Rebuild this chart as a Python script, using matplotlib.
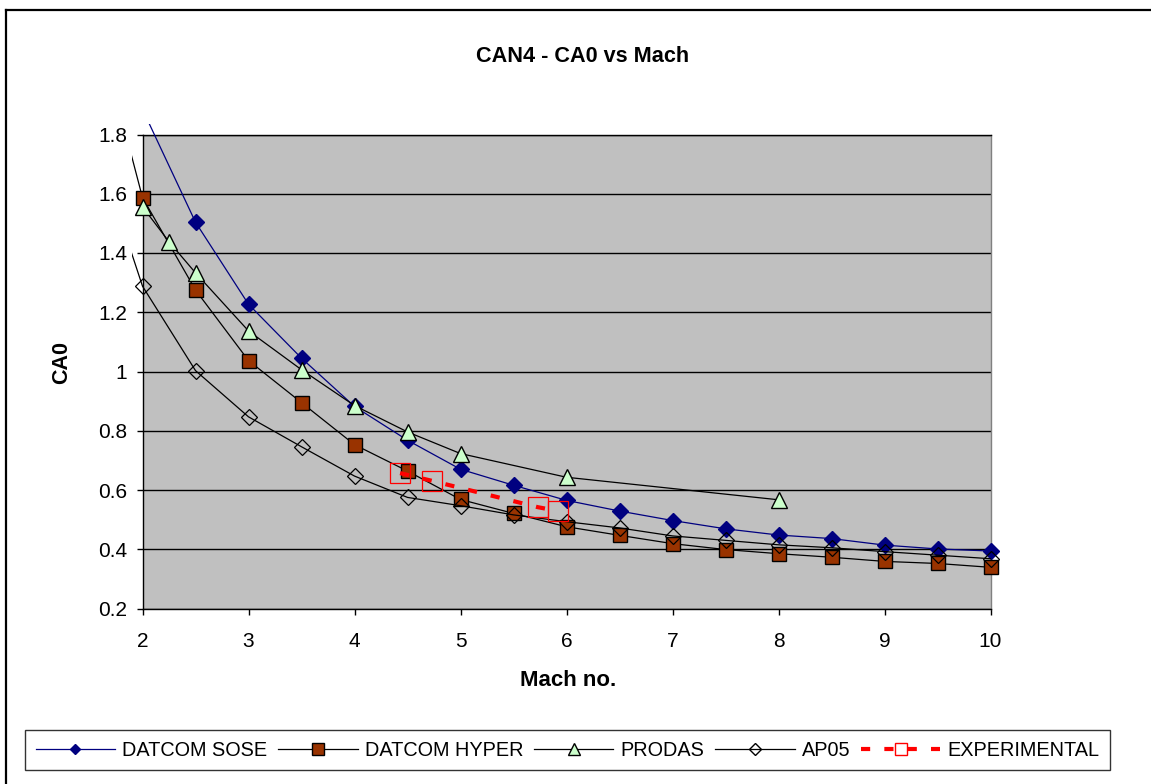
import matplotlib
matplotlib.use('Agg')
import matplotlib.pyplot as plt
from matplotlib.lines import Line2D
from matplotlib.patches import Rectangle
import matplotlib.ticker

# ---- data ----
mach_sose = [2, 2.5, 3, 3.5, 4, 4.5, 5, 5.5, 6, 6.5, 7, 7.5, 8, 8.5, 9, 9.5, 10]
ca0_sose = [1.885, 1.504, 1.227, 1.045, 0.882, 0.768, 0.670, 0.616, 0.565, 0.529,
            0.497, 0.469, 0.448, 0.436, 0.414, 0.401, 0.394]

mach_hyper = [1.5, 2, 2.5, 3, 3.5, 4, 4.5, 5, 5.5, 6, 6.5, 7, 7.5, 8, 8.5, 9, 9.5, 10]
ca0_hyper = [2.27, 1.587, 1.275, 1.037, 0.895, 0.753, 0.664, 0.568, 0.521, 0.476,
             0.447, 0.419, 0.399, 0.385, 0.373, 0.359, 0.352, 0.339]

mach_prodas = [2, 2.25, 2.5, 3, 3.5, 4, 4.5, 5, 6, 8]
ca0_prodas = [1.556, 1.438, 1.333, 1.137, 1.006, 0.885, 0.796, 0.723, 0.643, 0.567]

mach_ap05 = [1.5, 2, 2.5, 3, 3.5, 4, 4.5, 5, 5.5, 6, 6.5, 7, 7.5, 8, 8.5, 9, 9.5, 10]
ca0_ap05 = [1.83, 1.288, 1.003, 0.847, 0.746, 0.647, 0.575, 0.547, 0.516, 0.493,
            0.472, 0.445, 0.430, 0.415, 0.405, 0.392, 0.380, 0.368]

mach_exp = [4.43, 4.73, 5.73, 5.92]
ca0_exp = [0.657, 0.631, 0.542, 0.529]

series_names = ['DATCOM SOSE', 'DATCOM HYPER', 'PRODAS', 'AP05', 'EXPERIMENTAL']
yticks = [0.2, 0.4, 0.6, 0.8, 1.0, 1.2, 1.4, 1.6, 1.8]
xticks = [2, 3, 4, 5, 6, 7, 8, 9, 10]

# ---- style ----
W, H = 1151, 784
plt.rcParams.update({'font.family': ['Liberation Sans', 'DejaVu Sans']})

fig = plt.figure(figsize=(W / 100, H / 100), dpi=100)
fig.patch.set_facecolor('white')

# plot area in pixels (left, top, right, bottom)
pl, pt, pr, pb = 142.5, 134.5, 990.5, 608.5
ax = fig.add_axes([pl / W, 1 - pb / H, (pr - pl) / W, (pb - pt) / H])
ax.set_facecolor('#c0c0c0')
ax.set_xlim(2, 10)
ax.set_ylim(0.2, 1.8)

ax.set_yticks(yticks)
ax.set_xticks(xticks)
ax.yaxis.set_major_formatter(matplotlib.ticker.FuncFormatter(lambda v, p: '%g' % round(v, 2)))
ax.tick_params(axis='y', direction='out', length=4, width=1, pad=7, labelsize=15)
ax.tick_params(axis='x', direction='out', length=4, width=1, pad=13, labelsize=15)
for y in yticks:
    ax.axhline(y, color='black', lw=1, zorder=1)
ax.spines['left'].set_color('black')
ax.spines['bottom'].set_color('black')
ax.spines['top'].set_color('black')
ax.spines['right'].set_color('#808080')
for s in ax.spines.values():
    s.set_linewidth(1)

# lines can run a little outside the plot area, like in the reference
clip = Rectangle((132 / W, 1 - 620 / H), (1002 - 132) / W, (620 - 124) / H,
                 transform=fig.transFigure, fill=False)

l1, = ax.plot(mach_sose, ca0_sose, color='#000080', lw=0.9, marker='D', ms=8,
              mfc='#000080', mec='#000080', zorder=3)
l2, = ax.plot(mach_hyper, ca0_hyper, color='black', lw=0.9, marker='s', ms=10.5,
              mfc='#993300', mec='black', mew=1, zorder=4)
l3, = ax.plot(mach_prodas, ca0_prodas, color='black', lw=0.9, marker='^', ms=11.5,
              mfc='#ccffcc', mec='black', mew=1, zorder=5)
l4, = ax.plot(mach_ap05, ca0_ap05, color='black', lw=0.9, marker='D', ms=8.3,
              mfc='none', mec='black', mew=0.9, zorder=6)
l5, = ax.plot(mach_exp, ca0_exp, color='#ff0000', lw=3, dashes=(2.2, 3.4),
              marker='s', ms=14.5, mfc='none', mec='#ff0000', mew=0.9, zorder=7)
for ln in (l1, l2, l3, l4, l5):
    ln.set_clip_path(clip)

# ---- texts ----
fig.text(583 / W, 1 - 56 / H, 'CAN4 - CA0 vs Mach', ha='center', va='center',
         fontsize=15.6, fontweight='bold')
fig.text(568 / W, 1 - 681 / H, 'Mach no.', ha='center', va='center',
         fontsize=16, fontweight='bold')
fig.text(62 / W, 1 - 362 / H, 'CA0', ha='center', va='center', rotation=90,
         fontsize=15.5, fontweight='bold')

# ---- legend (smaller markers than in the plot) ----
handles = [
    Line2D([], [], color='#000080', lw=0.9, marker='D', ms=5, mfc='#000080', mec='#000080'),
    Line2D([], [], color='black', lw=0.9, marker='s', ms=9, mfc='#993300', mec='black'),
    Line2D([], [], color='black', lw=0.9, marker='^', ms=8.5, mfc='#ccffcc', mec='black'),
    Line2D([], [], color='black', lw=0.9, marker='D', ms=6, mfc='none', mec='black'),
    Line2D([], [], color='#ff0000', lw=3, dashes=(2.2, 3.4), marker='s', ms=9,
           mfc='white', mec='#ff0000'),
]
leg = fig.legend(handles, series_names, loc='center',
                 bbox_to_anchor=((22 + 1113) / 2 / W, 1 - 750 / H),
                 ncol=5, frameon=True, fancybox=False, shadow=False,
                 prop={'size': 14.3}, handlelength=4.0, handletextpad=0.35,
                 columnspacing=0.55, borderpad=0.55, borderaxespad=0.)
leg.get_frame().set_edgecolor('black')
leg.get_frame().set_linewidth(1)

# chart area border (only left and top edges are in the crop)
fig.add_artist(Line2D([5.5 / W, 5.5 / W], [0, 1 - 10 / H], transform=fig.transFigure,
                      color='black', lw=1.6))
fig.add_artist(Line2D([5.5 / W, 1], [1 - 10 / H, 1 - 10 / H], transform=fig.transFigure,
                      color='black', lw=1.6))

fig.savefig('out.png', dpi=100)
